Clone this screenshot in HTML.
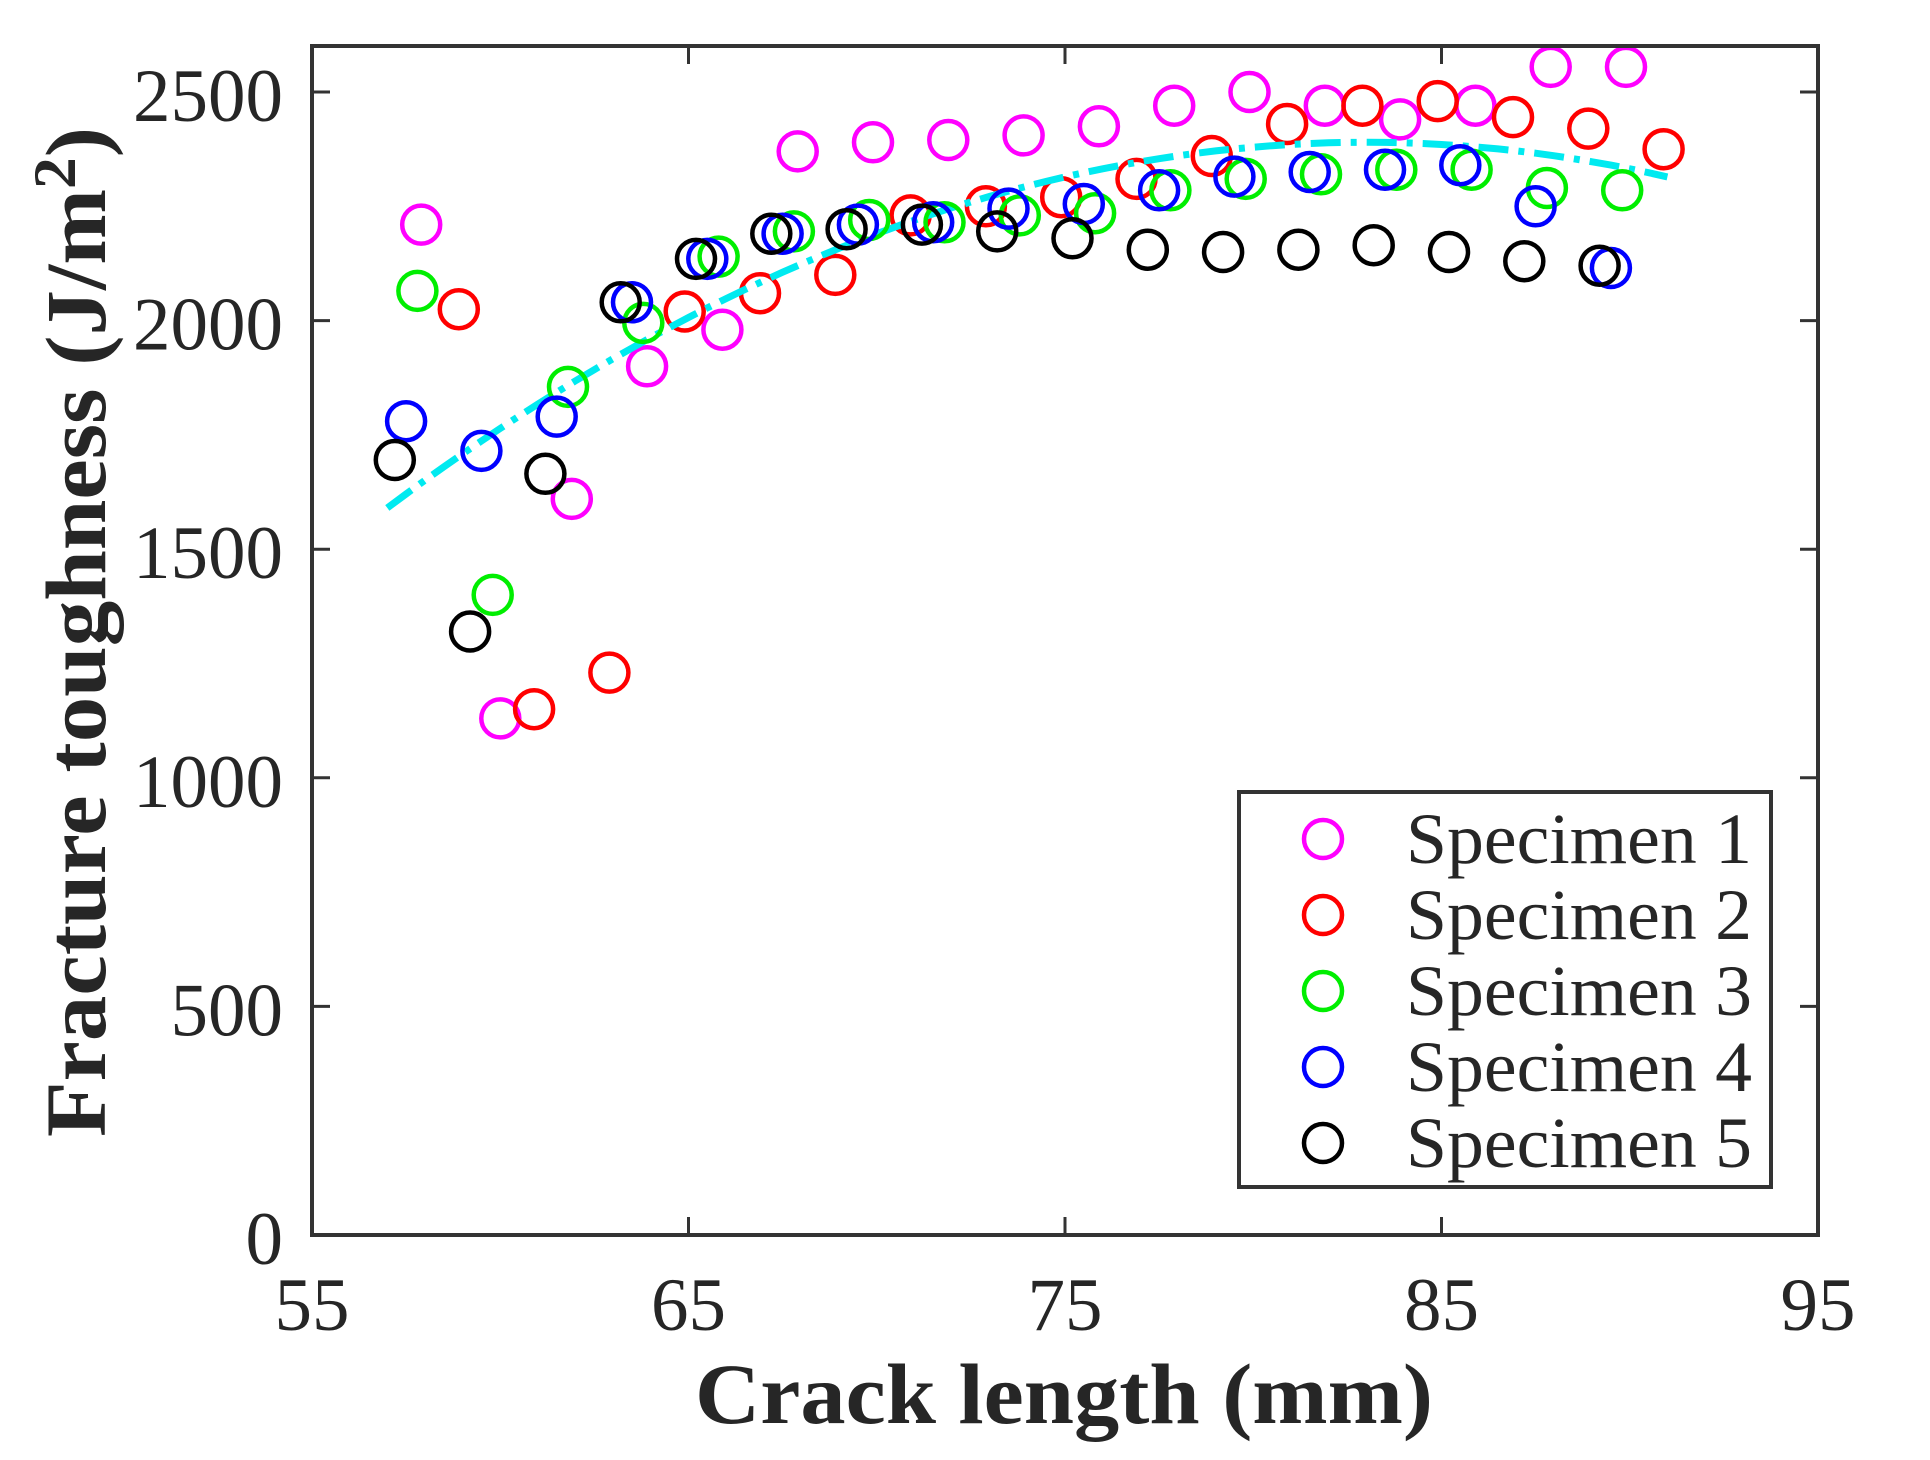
<!DOCTYPE html>
<html><head><meta charset="utf-8"><style>
html,body{margin:0;padding:0;background:#fff;}
svg{display:block;}
text{font-family:"Liberation Serif",serif;fill:#262626;}
</style></head><body>
<svg id="s" width="1930" height="1460" viewBox="0 0 1930 1460" xmlns="http://www.w3.org/2000/svg">
<rect width="1930" height="1460" fill="#fff"/>
<g id="data"></g>
<rect x="312" y="46" width="1506" height="1189" fill="none" stroke="#333" stroke-width="4"/>
<g id="ticks" stroke="#333" stroke-width="3"></g>
<g id="labels" font-size="75"></g>
<text x="1064" y="1423" text-anchor="middle" font-size="86" font-weight="bold" textLength="738" lengthAdjust="spacingAndGlyphs">Crack length (mm)</text>
<text transform="translate(105,632) rotate(-90)" text-anchor="middle" font-size="86" font-weight="bold" textLength="1010" lengthAdjust="spacingAndGlyphs">Fracture toughness (J/m<tspan dy="-30" font-size="60">2</tspan><tspan dy="30">)</tspan></text>
<rect x="1239" y="792" width="532" height="395" fill="#fff" stroke="#333" stroke-width="4"/>
<g id="legend"></g>
</svg>
<script>
var X=function(v){return 312+(v-55)*37.65;},Y=function(v){return 1235-v*0.4572;};
var NS="http://www.w3.org/2000/svg";
function el(p,n,a,t){var e=document.createElementNS(NS,n);for(var k in a)e.setAttribute(k,a[k]);if(t!==undefined)e.textContent=t;document.getElementById(p).appendChild(e);return e;}
// ticks
[55,65,75,85,95].forEach(function(v){var x=X(v);
 el("ticks","line",{x1:x,y1:1235,x2:x,y2:1217});el("ticks","line",{x1:x,y1:46,x2:x,y2:64});
 el("labels","text",{x:x,y:1330,"text-anchor":"middle"},String(v));});
[0,500,1000,1500,2000,2500].forEach(function(v){var y=Y(v);
 el("ticks","line",{x1:312,y1:y,x2:330,y2:y});el("ticks","line",{x1:1818,y1:y,x2:1800,y2:y});
 el("labels","text",{x:283,y:y+29,"text-anchor":"end"},String(v));});
// fit curve
var d="";for(var x=57;x<=91.01;x+=0.5){var yv=2390-1.183*(x-83)*(x-83);d+=(d?"L":"M")+X(x).toFixed(1)+" "+Y(yv).toFixed(1);}
var S=[
["#ff00ff",[[57.9,2210],[60,1130],[61.9,1610],[63.9,1900],[65.9,1980],[67.9,2370],[69.9,2390],[71.9,2395],[73.9,2405],[75.9,2425],[77.9,2470],[79.9,2500],[81.9,2470],[83.9,2440],[85.9,2470],[87.9,2555],[89.9,2555]]],
["#ff0000",[[58.9,2025],[60.9,1150],[62.9,1230],[64.9,2020],[66.9,2060],[68.9,2100],[70.9,2230],[72.9,2250],[74.9,2270],[76.9,2310],[78.9,2360],[80.9,2430],[82.9,2470],[84.9,2480],[86.9,2445],[88.9,2420],[90.9,2375]]],
["#00ee00",[[57.8,2065],[59.8,1400],[61.8,1855],[63.8,1995],[65.8,2140],[67.8,2195],[69.8,2220],[71.8,2215],[73.8,2230],[75.8,2235],[77.8,2285],[79.8,2310],[81.8,2320],[83.8,2330],[85.8,2330],[87.8,2290],[89.8,2285]]],
["#0000ff",[[57.5,1780],[59.5,1715],[61.5,1790],[63.5,2040],[65.5,2135],[67.5,2190],[69.5,2210],[71.5,2215],[73.5,2245],[75.5,2255],[77.5,2285],[79.5,2315],[81.5,2325],[83.5,2330],[85.5,2340],[87.5,2250],[89.5,2115]]],
["#000000",[[57.2,1695],[59.2,1320],[61.2,1665],[63.2,2040],[65.2,2135],[67.2,2190],[69.2,2200],[71.2,2210],[73.2,2195],[75.2,2180],[77.2,2155],[79.2,2150],[81.2,2155],[83.2,2165],[85.2,2150],[87.2,2130],[89.2,2120]]]];
S.forEach(function(s,i){s[1].forEach(function(p){el("data","circle",{cx:X(p[0]).toFixed(1),cy:Y(p[1]).toFixed(1),r:19,fill:"none",stroke:s[0],"stroke-width":4.5});});
 if(i==1) el("data","path",{d:d,fill:"none",stroke:"#00eaf0","stroke-width":7,"stroke-dasharray":"30 10 6 10"});
 var ly=839+i*76;
 el("legend","circle",{cx:1323,cy:ly,r:19,fill:"none",stroke:s[0],"stroke-width":4.5});
 el("legend","text",{x:1406,y:ly+24,"font-size":72,textLength:346,lengthAdjust:"spacingAndGlyphs"},"Specimen "+(i+1));});
</script>
</body></html>
